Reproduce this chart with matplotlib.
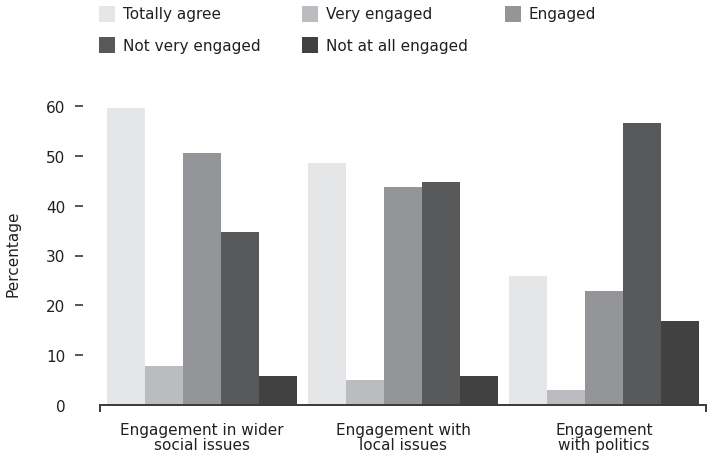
import matplotlib
matplotlib.use("Agg")
import matplotlib.pyplot as plt
from matplotlib.patches import Rectangle
import numpy as np

plt.rcParams['font.family'] = ['DejaVu Sans']

categories = ["Engagement in wider\nsocial issues", "Engagement with\nlocal issues", "Engagement\nwith politics"]
series_names = ["Totally agree", "Very engaged", "Engaged", "Not very engaged", "Not at all engaged"]
totally_agree = [59.6, 48.6, 25.9]
very_engaged = [7.9, 5.0, 3.0]
engaged = [50.6, 43.8, 22.9]
not_very_engaged = [34.7, 44.8, 56.6]
not_at_all_engaged = [5.8, 5.8, 16.9]
yticks = [0, 10, 20, 30, 40, 50, 60]

series_values = [totally_agree, very_engaged, engaged, not_very_engaged, not_at_all_engaged]
colors = ["#e5e6e8", "#bbbcbf", "#949598", "#58595b", "#414141"]
text_color = "#231f20"

W, H = 708, 456
fig = plt.figure(figsize=(W / 100, H / 100), dpi=100)
ax = fig.add_axes([100 / W, (H - 406) / H, 606 / W, (406 - 107) / H])

x = np.arange(len(categories))
bw = 38 / 201
for i, (vals, col) in enumerate(zip(series_values, colors)):
    ax.bar(x + (i - 2) * bw, vals, width=bw, color=col, linewidth=0)

ax.set_xlim(-102 / 201, 2 + 102 / 201)
ax.set_ylim(0, 60)

for s in ["top", "right", "left"]:
    ax.spines[s].set_visible(False)
ax.spines["left"].set_position(("outward", 12))
ax.spines["bottom"].set_color("#3a3a3a")
ax.spines["bottom"].set_linewidth(1.4)

ax.set_yticks(yticks)
ax.set_yticklabels([str(v) for v in yticks])
ax.tick_params(axis="y", length=6, width=1.2, color="#3a3a3a", pad=7,
               labelsize=11, labelcolor=text_color)
ax.yaxis.get_major_ticks()[0].tick1line.set_visible(False)

ax.set_xticks(x)
ax.set_xticklabels(categories, fontsize=11, color=text_color, linespacing=1.05)
ax.tick_params(axis="x", which="major", length=0, pad=12)
ax.set_xticks([-102 / 201, 2 + 102 / 201], minor=True)
ax.tick_params(axis="x", which="minor", length=5, width=1.4, color="#3a3a3a")

ax.set_ylabel("Percentage", fontsize=11, color=text_color)
ax.yaxis.set_label_coords(-79 / 606, 0.51)

# legend laid out in rows of three
for i, (name, col) in enumerate(zip(series_names, colors)):
    row, c = divmod(i, 3)
    x0 = 99 + c * 203
    y0 = 7 + row * 31
    fig.patches.append(Rectangle((x0 / W, 1 - (y0 + 16) / H), 16 / W, 16 / H,
                                 transform=fig.transFigure, color=col, linewidth=0))
    fig.text((x0 + 24) / W, 1 - (y0 + 8) / H, name, fontsize=11, color=text_color,
             va="center", ha="left")

fig.savefig("out.png", dpi=100)
